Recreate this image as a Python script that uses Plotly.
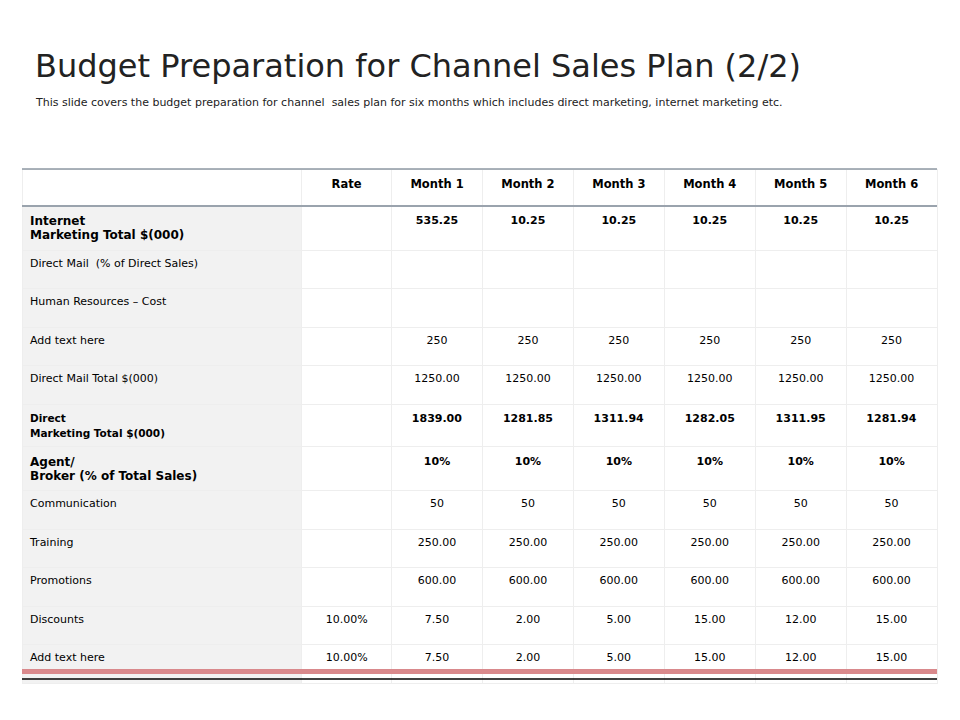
import plotly.graph_objects as go

headers = ["", "Rate", "Month 1", "Month 2", "Month 3", "Month 4", "Month 5", "Month 6"]
labels = ["Internet Marketing Total $(000)", "Direct Mail  (% of Direct Sales)", "Human Resources – Cost",
          "Add text here", "Direct Mail Total $(000)", "Direct Marketing Total $(000)",
          "Agent/ Broker (% of Total Sales)", "Communication", "Training", "Promotions",
          "Discounts", "Add text here"]
rates = ["", "", "", "", "", "", "", "", "", "", "10.00%", "10.00%"]
months = [
    ["535.25", "", "", "250", "1250.00", "1839.00", "10%", "50", "250.00", "600.00", "7.50", "7.50"],
    ["10.25", "", "", "250", "1250.00", "1281.85", "10%", "50", "250.00", "600.00", "2.00", "2.00"],
    ["10.25", "", "", "250", "1250.00", "1311.94", "10%", "50", "250.00", "600.00", "5.00", "5.00"],
    ["10.25", "", "", "250", "1250.00", "1282.05", "10%", "50", "250.00", "600.00", "15.00", "15.00"],
    ["10.25", "", "", "250", "1250.00", "1311.95", "10%", "50", "250.00", "600.00", "12.00", "12.00"],
    ["10.25", "", "", "250", "1250.00", "1281.94", "10%", "50", "250.00", "600.00", "15.00", "15.00"],
]
bold_rows = {0, 5, 6}

def fmt(v, i):
    return f"<b>{v}</b>" if (i in bold_rows and v) else v

label_col = []
for i, l in enumerate(labels):
    if i == 5:
        label_col.append(f"<b><span style='font-size:10.5px'>{l}</span></b>")
    elif i in bold_rows:
        label_col.append(f"<b><span style='font-size:12px'>{l}</span></b>")
    else:
        label_col.append(l)
cols = [label_col, [fmt(v, i) for i, v in enumerate(rates)]]
for m in months:
    cols.append([fmt(v, i) for i, v in enumerate(m)])

OFF = 8
W, H = 960 - OFF, 720 - OFF

def px(p):
    return (p - OFF) / W

def py(p):
    return 1 - (p - OFF) / H

x0, x1 = 22, 937
fig = go.Figure(go.Table(
    domain=dict(x=[px(x0), px(x1)], y=[0, py(169)]),
    columnwidth=[280, 90] + [91] * 6,
    header=dict(values=[f"<b>{h}</b>" if h else "" for h in headers], height=37,
                fill_color="white", line=dict(color="#eeeeee", width=1),
                align="center", font=dict(family="DejaVu Sans, sans-serif", size=11.5, color="black")),
    cells=dict(values=cols, height=38.5,
               fill_color=[["#f2f2f2"] * 12] + [["white"] * 12] * 7,
               line=dict(color="#eeeeee", width=1),
               align=["left"] + ["center"] * 7,
               font=dict(family="DejaVu Sans, sans-serif", size=11, color="black")),
))

shapes = [
    dict(type="line", xref="paper", yref="paper", x0=px(x0), x1=px(x1), y0=py(169), y1=py(169),
         line=dict(color="#8e98a3", width=1.5)),
    dict(type="line", xref="paper", yref="paper", x0=px(x0), x1=px(x1), y0=py(206), y1=py(206),
         line=dict(color="#9aa3ad", width=2)),
    dict(type="rect", xref="paper", yref="paper", x0=px(x0), x1=px(x1), y0=py(674), y1=py(669),
         fillcolor="#d9898c", line=dict(width=0)),
    dict(type="line", xref="paper", yref="paper", x0=px(x0), x1=px(x1), y0=py(679), y1=py(679),
         line=dict(color="black", width=1.5)),
]
fig.update_layout(
    width=W, height=H, margin=dict(l=0, r=0, t=0, b=0), paper_bgcolor="white",
    shapes=shapes,
    annotations=[
        dict(text="Budget Preparation for Channel Sales Plan (2/2)", xref="paper", yref="paper",
             x=px(33), y=py(66), xanchor="left", yanchor="middle", showarrow=False,
             font=dict(family="DejaVu Sans, sans-serif", size=32, color="#222222")),
        dict(text="This slide covers the budget preparation for channel  sales plan for six months which includes direct marketing, internet marketing etc.",
             xref="paper", yref="paper", x=px(33), y=py(103), xanchor="left", yanchor="middle",
             showarrow=False, font=dict(family="DejaVu Sans, sans-serif", size=11, color="#222222")),
    ],
)
fig.write_html("out.html")
